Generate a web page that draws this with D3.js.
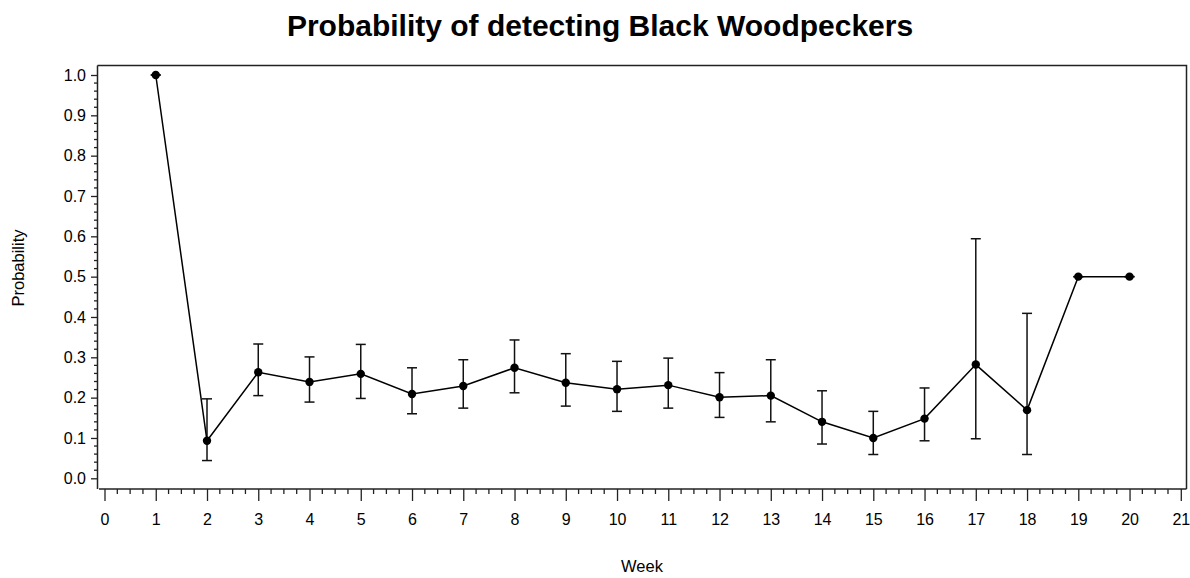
<!DOCTYPE html>
<html>
<head>
<meta charset="utf-8">
<script src="https://cdn.jsdelivr.net/npm/d3@7"></script>
<style>
  html, body { margin: 0; padding: 0; background: #fff; }
  svg { display: block; font-family: Arial, "Liberation Sans", Helvetica, sans-serif; }
</style>
</head>
<body>
<svg id="chart" width="1190" height="578"></svg>
<script>
// ---- data ----
const weeks = [1, 2, 3, 4, 5, 6, 7, 8, 9, 10, 11, 12, 13, 14, 15, 16, 17, 18, 19, 20];
const probability = [1.000, 0.093, 0.263, 0.239, 0.259, 0.209, 0.229, 0.274, 0.237, 0.221,
                     0.231, 0.201, 0.205, 0.140, 0.100, 0.148, 0.282, 0.169, 0.500, 0.500];
const lowerCI = [1.000, 0.044, 0.205, 0.189, 0.198, 0.160, 0.174, 0.212, 0.179, 0.166,
                 0.174, 0.151, 0.140, 0.085, 0.059, 0.093, 0.098, 0.059, 0.500, 0.500];
const upperCI = [1.000, 0.197, 0.333, 0.301, 0.332, 0.274, 0.294, 0.343, 0.309, 0.290,
                 0.298, 0.262, 0.294, 0.217, 0.166, 0.224, 0.594, 0.409, 0.500, 0.500];
const xTickLabels = d3.range(0, 22).map(String);
const yTickLabels = ["0.0","0.1","0.2","0.3","0.4","0.5","0.6","0.7","0.8","0.9","1.0"];
const titleText = "Probability of detecting Black Woodpeckers";
const xLabel = "Week";
const yLabel = "Probability";

// ---- layout ----
const frame = { left: 97.5, right: 1186.5, top: 65.5, bottom: 489 };
const tickFont = 16;
const labelFont = 16.5;
const svg = d3.select("#chart");

const x = d3.scaleLinear().domain([0, 21]).range([104.5, 1180.8]);
const y = d3.scaleLinear().domain([0, 1]).range([478.3, 75]);

const data = weeks.map((w, i) => ({ w, p: probability[i], lo: lowerCI[i], hi: upperCI[i] }));

// frame (top and right)
svg.append("path")
  .attr("d", `M${frame.left},${frame.top}H${frame.right}V${frame.bottom}`)
  .attr("fill", "none").attr("stroke", "#222").attr("stroke-width", 1.5);

// x axis
const xMajor = d3.range(0, 22);
const xMinor = d3.range(0, 21.001, 0.25).filter(v => Math.abs(v - Math.round(v)) > 1e-6);
const gx = svg.append("g").attr("transform", `translate(0,${frame.bottom})`);
gx.append("line").attr("x1", frame.left + 1.5).attr("x2", frame.right)
  .attr("stroke", "#222").attr("stroke-width", 1.5);
gx.selectAll("line.minor").data(xMinor).join("line").attr("class", "minor")
  .attr("x1", d => x(d)).attr("x2", d => x(d)).attr("y1", 0).attr("y2", 5)
  .attr("stroke", "#222").attr("stroke-width", 1.3);
const xAxis = d3.axisBottom(x).tickValues(xMajor).tickFormat((d, i) => xTickLabels[i])
  .tickSize(12).tickPadding(13);
const gxa = gx.append("g").call(xAxis);
gxa.attr("font-size", tickFont).attr("font-family", "Arial, 'Liberation Sans', sans-serif");
gxa.select(".domain").remove();
gxa.selectAll(".tick line").attr("stroke", "#222").attr("stroke-width", 1.3);
gxa.selectAll(".tick text").attr("fill", "#000");

// y axis
const yMajor = d3.range(0, 11).map(i => i / 10);
const yMinor = d3.range(0, 51).map(i => i / 50).filter((v, i) => i % 5 !== 0);
const gy = svg.append("g").attr("transform", `translate(${frame.left},0)`);
gy.append("line").attr("y1", frame.top).attr("y2", frame.bottom)
  .attr("stroke", "#222").attr("stroke-width", 1.5);
gy.selectAll("line.minor").data(yMinor).join("line").attr("class", "minor")
  .attr("x1", 0).attr("x2", -3.5).attr("y1", d => y(d)).attr("y2", d => y(d))
  .attr("stroke", "#222").attr("stroke-width", 1.3);
const yAxis = d3.axisLeft(y).tickValues(yMajor).tickFormat((d, i) => yTickLabels[i])
  .tickSize(6.5).tickPadding(5);
const gya = gy.append("g").call(yAxis);
gya.attr("font-size", tickFont).attr("font-family", "Arial, 'Liberation Sans', sans-serif");
gya.select(".domain").remove();
gya.selectAll(".tick line").attr("stroke", "#222").attr("stroke-width", 1.3);
gya.selectAll(".tick text").attr("fill", "#000");

// error bars
const capHalf = 5;
const eb = svg.append("g").attr("stroke", "#111").attr("stroke-width", 1.5).attr("fill", "none");
eb.selectAll("line.v").data(data).join("line").attr("class", "v")
  .attr("x1", d => x(d.w)).attr("x2", d => x(d.w))
  .attr("y1", d => y(d.lo)).attr("y2", d => y(d.hi));
eb.selectAll("line.ct").data(data).join("line").attr("class", "ct")
  .attr("x1", d => x(d.w) - capHalf).attr("x2", d => x(d.w) + capHalf)
  .attr("y1", d => y(d.hi)).attr("y2", d => y(d.hi));
eb.selectAll("line.cb").data(data).join("line").attr("class", "cb")
  .attr("x1", d => x(d.w) - capHalf).attr("x2", d => x(d.w) + capHalf)
  .attr("y1", d => y(d.lo)).attr("y2", d => y(d.lo));

// line
const line = d3.line().x(d => x(d.w)).y(d => y(d.p));
svg.append("path").datum(data).attr("d", line)
  .attr("fill", "none").attr("stroke", "#000").attr("stroke-width", 1.5);

// markers
svg.append("g").selectAll("circle").data(data).join("circle")
  .attr("cx", d => x(d.w)).attr("cy", d => y(d.p)).attr("r", 4.2).attr("fill", "#000");

// title
svg.append("text").attr("x", 600).attr("y", 36).attr("text-anchor", "middle")
  .attr("font-size", 30).attr("font-weight", "bold").attr("fill", "#000")
  .text(titleText);

// axis labels
svg.append("text").attr("x", (frame.left + frame.right) / 2).attr("y", 572)
  .attr("text-anchor", "middle").attr("font-size", labelFont).attr("fill", "#000").text(xLabel);
svg.append("text").attr("transform", "translate(24,268) rotate(-90)")
  .attr("text-anchor", "middle").attr("font-size", labelFont).attr("fill", "#000").text(yLabel);
</script>
</body>
</html>
